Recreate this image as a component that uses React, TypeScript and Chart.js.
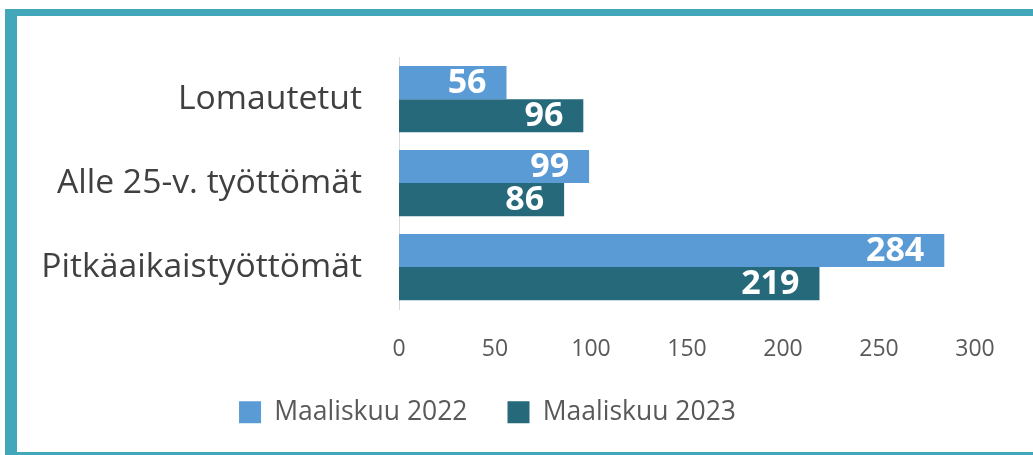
import React, { useEffect, useRef } from "react";
import { Chart, registerables } from "chart.js";

Chart.register(...registerables);

const categories = ["Lomautetut", "Alle 25-v. työttömät", "Pitkäaikaistyöttömät"];
const seriesNames = ["Maaliskuu 2022", "Maaliskuu 2023"];
const values2022 = [56, 99, 284];
const values2023 = [96, 86, 219];
const xMin = 0;
const xMax = 300;
const xStep = 50;

const FONT = "'Open Sans', Lato, sans-serif";
const COLOR_2022 = "#5B9BD5";
const COLOR_2023 = "#25697A";
const FRAME = "#42A8B9";

const valueLabels = {
  id: "valueLabels",
  afterDatasetsDraw(chart: any) {
    const ctx = chart.ctx;
    ctx.save();
    ctx.fillStyle = "#FFFFFF";
    ctx.font = `bold 34px ${FONT}`;
    ctx.textAlign = "right";
    ctx.textBaseline = "middle";
    chart.data.datasets.forEach((ds: any, di: number) => {
      const meta = chart.getDatasetMeta(di);
      meta.data.forEach((bar: any, i: number) => {
        ctx.fillText(String(ds.data[i]), bar.x - 20, bar.y + 1);
      });
    });
    ctx.restore();
  },
};

const legendHeight = {
  id: "legendHeight",
  beforeLayout(chart: any) {
    const lg = chart.legend;
    if (lg && !lg._patchedFit) {
      const orig = lg.fit.bind(lg);
      lg.fit = function () {
        orig();
        this.height = 96;
      };
      lg._patchedFit = true;
    }
  },
};

export default function App() {
  const ref = useRef<HTMLCanvasElement | null>(null);

  useEffect(() => {
    if (!ref.current) return;
    const chart = new Chart(ref.current, {
      type: "bar",
      data: {
        labels: categories,
        datasets: [
          {
            label: seriesNames[0],
            data: values2022,
            backgroundColor: COLOR_2022,
            barPercentage: 1,
            categoryPercentage: 0.79,
          },
          {
            label: seriesNames[1],
            data: values2023,
            backgroundColor: COLOR_2023,
            barPercentage: 1,
            categoryPercentage: 0.79,
          },
        ],
      },
      options: {
        indexAxis: "y",
        responsive: false,
        animation: false,
        events: [],
        layout: { padding: { left: 0, right: 58, top: 51, bottom: 0 } },
        plugins: {
          tooltip: { enabled: false },
          legend: {
            position: "bottom",
            labels: {
              boxWidth: 22,
              boxHeight: 22,
              padding: 40,
              color: "#595959",
              font: { family: FONT, size: 26.5 },
            },
          },
        },
        scales: {
          x: {
            min: xMin,
            max: xMax,
            grid: { display: false, drawTicks: false },
            border: { display: false },
            ticks: {
              stepSize: xStep,
              padding: 27,
              color: "#595959",
              font: { family: FONT, size: 23 },
            },
            afterFit(s: any) {
              s.height = 50;
            },
          },
          y: {
            grid: { display: true, drawOnChartArea: false, drawTicks: false, color: "#D9D9D9" },
            border: { display: true, color: "#D9D9D9", width: 1 },
            ticks: {
              padding: 37,
              color: "#404040",
              font: { family: FONT, size: 33.7 },
            },
            afterFit(s: any) {
              s.width = 399;
            },
          },
        },
      },
      plugins: [valueLabels, legendHeight],
    });
    return () => chart.destroy();
  }, []);

  return (
    <div
      style={{
        position: "absolute",
        left: 0,
        top: 0,
        width: 1033,
        height: 455,
        overflow: "hidden",
        background: "#FFFFFF",
      }}
    >
      <div
        style={{
          position: "absolute",
          left: 5,
          top: 9,
          width: 1100,
          height: 450,
          boxSizing: "border-box",
          borderLeft: `12px solid ${FRAME}`,
          borderTop: `7px solid ${FRAME}`,
          borderBottom: `7px solid ${FRAME}`,
        }}
      />
      <canvas
        ref={ref}
        width={1033}
        height={455}
        style={{ position: "absolute", left: 0, top: 0, width: 1033, height: 455 }}
      />
    </div>
  );
}
